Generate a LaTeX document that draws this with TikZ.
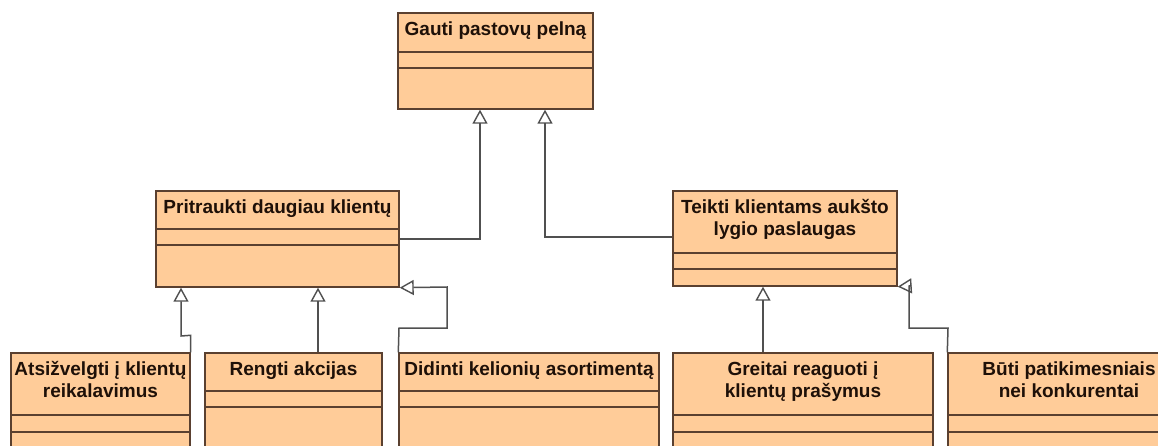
\documentclass[tikz,border=0pt]{standalone}
\usepackage{fontspec}
\setmainfont{Liberation Sans}
\usetikzlibrary{fit,arrows.meta,calc}
\definecolor{clsfill}{HTML}{FFCC99}
\definecolor{clsdraw}{HTML}{5A4030}
\definecolor{conn}{HTML}{505050}
\definecolor{txt}{HTML}{1E1008}
\tikzset{
  clsbox/.style={draw=clsdraw, fill=clsfill, line width=1.4pt, inner sep=0pt, rectangle},
  clsline/.style={draw=clsdraw, line width=1.4pt},
  clstext/.style={inner sep=0pt, align=center, text=txt,
     font=\fontsize{19}{22}\selectfont\bfseries},
  gen/.style={draw=conn, line width=1.5pt, -{Triangle[open, length=14pt, width=15pt, line width=1.4pt]}},
}
\newcommand\umlcls[8]{%
  \node[clsbox, fit={(#2,#3) (#4,#5)}] (#1) {};
  \draw[clsline] (#1.west |- 0,#6) -- (#1.east |- 0,#6);
  \draw[clsline] (#1.west |- 0,#7) -- (#1.east |- 0,#7);
  \node[clstext, anchor=north, yshift=-5pt] (#1t) at (#1.north) {\rule{0pt}{18pt}#8};
}
\begin{document}
\begin{tikzpicture}[x=1pt, y=-1pt]
\useasboundingbox[fill=white] (0,0) rectangle (1158,446);
\umlcls{G}{398}{13}{593}{109}{52}{68}{Gauti pastovų pelną}
\umlcls{P}{156}{191}{399}{287}{229}{245}{Pritraukti daugiau klientų}
\umlcls{T}{673}{191}{897}{286}{253}{269}{Teikti klientams aukšto\\lygio paslaugas}
\umlcls{A}{11}{353}{190}{480}{415}{432}{Atsižvelgti į klientų\\reikalavimus}
\umlcls{R}{205}{353}{382}{480}{391}{407}{Rengti akcijas}
\umlcls{D}{399}{353}{659}{480}{391}{407}{Didinti kelionių asortimentą}
\umlcls{Gr}{673}{353}{933}{480}{415}{432}{Greitai reaguoti į\\klientų prašymus}
\umlcls{B}{948}{353}{1190}{480}{415}{432}{Būti patikimesniais\\nei konkurentai}
% generalisations
\draw[gen] (P.east |- 0,239) -- (480,239) -- (G.south -| 480,0);
\draw[gen] (T.west |- 0,237) -- (545,237) -- (G.south -| 545,0);
\draw[gen] (A.north east) -- ++(0,-17) -- (181,336) -- (P.south -| 181,0);
\draw[gen] (R.north -| 318,0) -- (P.south -| 318,0);
\draw[gen] (D.north west) -- (399,328) -- (447,328) -- (447,287) -- (P.south east);
\draw[gen] (Gr.north -| 763,0) -- (T.south -| 763,0);
\draw[gen] (B.north west) -- (948,328) -- (909,328) -- (909,286) -- (T.south east);
\end{tikzpicture}
\end{document}
